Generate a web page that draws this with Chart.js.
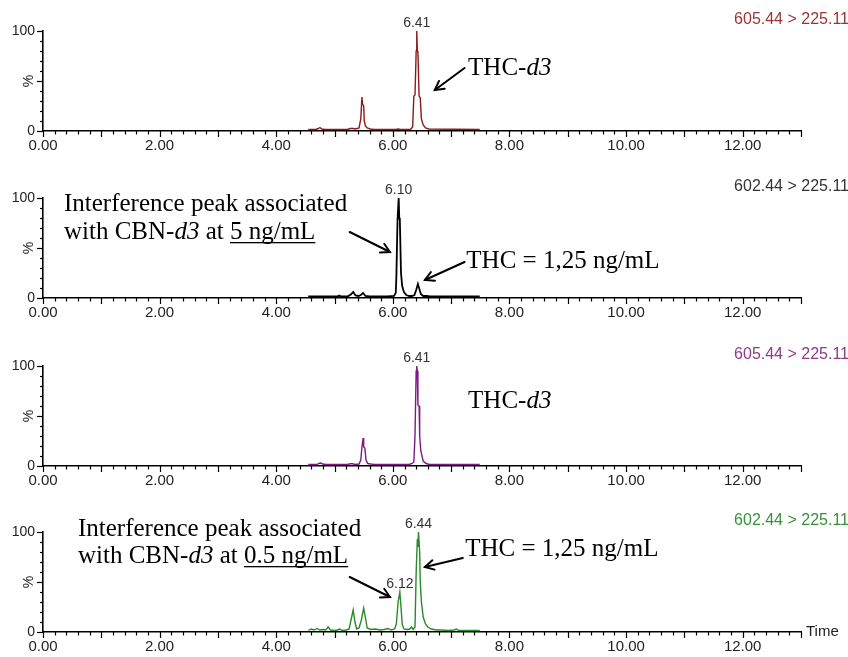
<!DOCTYPE html>
<html>
<head>
<meta charset="utf-8">
<script src="https://cdn.jsdelivr.net/npm/chart.js@4.4.0/dist/chart.umd.min.js"></script>
<style>
  body { margin: 0; background: #fff; }
  .panel { position: absolute; left: 0; width: 848px; height: 167px; }
</style>
</head>
<body>
<div class="panel" style="top:0px"><canvas id="c1" width="848" height="167"></canvas></div>
<div class="panel" style="top:167px"><canvas id="c2" width="848" height="167"></canvas></div>
<div class="panel" style="top:335px"><canvas id="c3" width="848" height="167"></canvas></div>
<div class="panel" style="top:501px"><canvas id="c4" width="848" height="167"></canvas></div>
<script>
// Ejes
const xTickValues = [0, 2, 4, 6, 8, 10, 12];
const xTickLabels = ['0.00', '2.00', '4.00', '6.00', '8.00', '10.00', '12.00'];
const yTickValues = [0, 100];
const yTickLabels = ['0', '100'];

// Canales MRM
const channels = ['605.44 > 225.11', '602.44 > 225.11', '605.44 > 225.11', '602.44 > 225.11'];

// Cromatograma 1 (THC-d3)
const time1 = [4.55, 4.68, 4.72, 4.75, 4.78, 4.84, 5.22, 5.27, 5.32, 5.36, 5.42, 5.45, 5.47, 5.48, 5.50, 5.51, 5.53, 5.56, 5.61, 5.68,
  6.05, 6.09, 6.13, 6.30, 6.34, 6.36, 6.38, 6.40, 6.41, 6.42, 6.43, 6.45, 6.47, 6.49, 6.52, 6.56, 6.62, 7.49];
const signal1 = [1.5, 1.5, 2.5, 3.5, 2, 1.5, 1.5, 2.5, 2.5, 2, 3, 12, 34, 27, 25, 10, 5, 3, 2, 1.5,
  1.5, 2, 1.5, 1.5, 4, 35, 36, 80, 100, 80, 79, 35, 33, 12, 6, 3, 2, 1.5];
const peaks1 = [6.41];

// Cromatograma 2 (THC, CBN-d3 5 ng/mL)
const time2 = [4.55, 4.95, 5.05, 5.08, 5.11, 5.22, 5.28, 5.32, 5.36, 5.41, 5.45, 5.49, 5.53, 5.60, 5.90,
  6.02, 6.05, 6.06, 6.08, 6.10, 6.11, 6.12, 6.14, 6.16, 6.19, 6.23, 6.28, 6.33, 6.37, 6.40,
  6.43, 6.45, 6.48, 6.52, 6.58, 6.64, 7.49];
const signal2 = [1.5, 1.5, 1.5, 2.5, 1.5, 1.5, 3.5, 6, 2.5, 2, 3, 5, 2, 1.5, 1.5,
  2, 5, 20, 78, 100, 80, 78, 25, 12, 6, 3, 2, 2, 3, 8,
  14, 10, 4, 2, 2, 1.5, 1.5];
const peaks2 = [6.10];

// Cromatograma 3 (THC-d3)
const time3 = [4.55, 4.70, 4.73, 4.76, 4.80, 4.86, 5.22, 5.27, 5.31, 5.35, 5.42, 5.45, 5.47, 5.49, 5.50,
  5.52, 5.54, 5.57, 5.62, 5.68, 6.28, 6.33, 6.36, 6.38, 6.40, 6.41, 6.42, 6.43, 6.45, 6.46,
  6.48, 6.52, 6.57, 6.63, 7.49];
const signal3 = [1.5, 1.5, 2.5, 3, 2, 1.5, 1.5, 2.2, 2.2, 1.5, 2, 6, 19, 28, 19,
  18, 6, 2.5, 2, 1.5, 1.5, 2.5, 4, 30, 95, 100, 95, 61, 60, 30,
  15, 5, 2.5, 1.5, 1.5];
const peaks3 = [6.41];

// Cromatograma 4 (THC, CBN-d3 0.5 ng/mL)
const time4 = [4.55, 4.60, 4.65, 4.70, 4.75, 4.80, 4.85, 4.89, 4.93, 5.00, 5.05, 5.09, 5.13, 5.20, 5.25,
  5.29, 5.32, 5.35, 5.38, 5.42, 5.46, 5.50, 5.53, 5.56, 5.62, 5.70, 5.78, 5.85, 5.92, 5.97,
  6.03, 6.06, 6.09, 6.12, 6.14, 6.16, 6.19, 6.24, 6.29, 6.32, 6.35, 6.38, 6.40, 6.42, 6.43,
  6.44, 6.46, 6.47, 6.49, 6.52, 6.56, 6.60, 6.66, 6.75, 6.85, 6.95, 7.05, 7.09, 7.13, 7.25, 7.40, 7.49];
const signal4 = [1.5, 3, 2, 3.5, 2, 2.5, 2, 5, 2, 1.5, 2, 3, 1.5, 2, 3,
  14, 22, 10, 3, 4, 12, 24, 14, 4, 2.5, 3, 2, 2.5, 3.5, 2,
  3, 8, 30, 40, 25, 8, 3, 2.5, 3, 5, 2.5, 5, 60, 93, 85,
  100, 80, 50, 30, 15, 8, 5, 3, 2, 2, 1.5, 2, 3, 1.5, 1.5, 1.5, 1.5];
const peaks4 = [6.12, 6.44];

const SERIF = '"Liberation Serif", "Times New Roman", serif';
const SANS = '"Liberation Sans", Arial, sans-serif';

// Dibuja marcas de los ejes, etiquetas y anotaciones
const chromPlugin = {
  id: 'chrom',
  afterDraw(chart, args, opts) {
    const ctx = chart.ctx;
    const xs = chart.scales.x, ys = chart.scales.y;
    const base = ys.getPixelForValue(0);
    const left = xs.left;
    ctx.save();
    ctx.strokeStyle = '#000';
    ctx.lineWidth = 1.2;
    for (let i = 0; i <= 65; i++) {
      const px = Math.round(xs.getPixelForValue(i / 5)) + 0.5;
      const len = i % 5 === 0 ? 6 : 3.5;
      ctx.beginPath(); ctx.moveTo(px, base); ctx.lineTo(px, base + len); ctx.stroke();
    }
    for (let j = 0; j <= 10; j++) {
      const py = Math.round(ys.getPixelForValue(j * 10)) + 0.5;
      const len = j % 5 === 0 ? 6 : 3;
      ctx.beginPath(); ctx.moveTo(left, py); ctx.lineTo(left - len, py); ctx.stroke();
    }

    // "%"
    ctx.fillStyle = '#222';
    ctx.font = '14px ' + SANS;
    ctx.textAlign = 'center';
    ctx.textBaseline = 'middle';
    ctx.save();
    ctx.translate(29, ys.getPixelForValue(50));
    ctx.rotate(-Math.PI / 2);
    ctx.fillText('%', 0, 0);
    ctx.restore();

    // canal
    ctx.font = '16px ' + SANS;
    ctx.fillStyle = opts.labelColor;
    ctx.textAlign = 'right';
    ctx.fillText(opts.channel, chart.width + 1, 20);

    if (opts.timeLabel) {
      ctx.fillStyle = '#222';
      ctx.font = '15px ' + SANS;
      ctx.textAlign = 'left';
      ctx.fillText('Time', xs.right + 5, base);
    }

    // etiquetas de picos
    const ds = chart.data.datasets[0].data;
    ctx.fillStyle = '#333';
    ctx.font = '14px ' + SANS;
    ctx.textAlign = 'center';
    ctx.textBaseline = 'bottom';
    opts.peaks.forEach(t => {
      const pt = ds.find(d => d.x === t);
      ctx.fillText(t.toFixed(2), xs.getPixelForValue(t), ys.getPixelForValue(pt.y) - 1);
    });

    // textos
    ctx.fillStyle = '#000';
    ctx.textAlign = 'left';
    ctx.textBaseline = 'alphabetic';
    (opts.texts || []).forEach(tx => {
      let cx = xs.getPixelForValue(tx.t);
      const cy = ys.getPixelForValue(tx.v);
      tx.parts.forEach(p => {
        ctx.font = (p.i ? 'italic ' : '') + '25px ' + SERIF;
        ctx.fillText(p.s, cx, cy);
        const w = ctx.measureText(p.s).width;
        if (p.u) ctx.fillRect(cx, cy + 3, w, 1.3);
        cx += w;
      });
    });

    // flechas
    ctx.strokeStyle = '#000';
    ctx.lineWidth = 2;
    ctx.lineCap = 'round';
    (opts.arrows || []).forEach(a => {
      const x1 = xs.getPixelForValue(a.from[0]), y1 = ys.getPixelForValue(a.from[1]);
      const x2 = xs.getPixelForValue(a.to[0]), y2 = ys.getPixelForValue(a.to[1]);
      const ang = Math.atan2(y2 - y1, x2 - x1);
      ctx.beginPath(); ctx.moveTo(x1, y1); ctx.lineTo(x2, y2); ctx.stroke();
      ctx.beginPath();
      ctx.moveTo(x2 - 10 * Math.cos(ang - 0.5), y2 - 10 * Math.sin(ang - 0.5));
      ctx.lineTo(x2, y2);
      ctx.lineTo(x2 - 10 * Math.cos(ang + 0.5), y2 - 10 * Math.sin(ang + 0.5));
      ctx.stroke();
    });
    ctx.restore();
  }
};

function makeChart(id, times, signal, color, lineWidth, notes) {
  return new Chart(document.getElementById(id), {
    type: 'line',
    data: {
      datasets: [{
        data: times.map((t, i) => ({ x: t, y: signal[i] })),
        borderColor: color,
        borderWidth: lineWidth,
        pointRadius: 0,
        tension: 0,
        clip: 6
      }]
    },
    options: {
      responsive: false,
      animation: false,
      devicePixelRatio: 1,
      layout: { padding: { top: 31, right: 47, left: 0, bottom: 0 } },
      plugins: {
        legend: { display: false },
        tooltip: { enabled: false },
        chrom: notes
      },
      scales: {
        x: {
          type: 'linear',
          min: 0,
          max: 13,
          afterFit: s => { s.height = 36; },
          afterBuildTicks: s => { s.ticks = xTickValues.map(v => ({ value: v })); },
          ticks: {
            autoSkip: false,
            maxRotation: 0,
            padding: 6,
            color: '#222',
            font: { family: SANS, size: 15 },
            callback: v => xTickLabels[xTickValues.indexOf(v)]
          },
          grid: { display: false, drawTicks: false },
          border: { display: true, color: '#000', width: 1.6 }
        },
        y: {
          min: 0,
          max: 100,
          afterFit: s => { s.width = 43; },
          afterBuildTicks: s => { s.ticks = yTickValues.map(v => ({ value: v })); },
          ticks: {
            padding: 8,
            color: '#222',
            font: { family: SANS, size: 14 },
            callback: v => yTickLabels[yTickValues.indexOf(v)]
          },
          grid: { display: false, drawTicks: false },
          border: { display: true, color: '#000', width: 1.6 }
        }
      }
    },
    plugins: [chromPlugin]
  });
}

makeChart('c1', time1, signal1, '#8b1a1a', 1.4, {
  channel: channels[0], labelColor: '#9c3434', peaks: peaks1,
  texts: [{ t: 7.29, v: 56, parts: [{ s: 'THC-' }, { s: 'd3', i: true }] }],
  arrows: [{ from: [7.23, 63], to: [6.72, 41] }]
});

makeChart('c2', time2, signal2, '#000000', 1.8, {
  channel: channels[1], labelColor: '#333333', peaks: peaks2,
  texts: [
    { t: 0.36, v: 87, parts: [{ s: 'Interference peak associated' }] },
    { t: 0.36, v: 59, parts: [{ s: 'with CBN-' }, { s: 'd3', i: true }, { s: ' at ' }, { s: '5 ng/mL', u: true }] },
    { t: 7.26, v: 30, parts: [{ s: 'THC = 1,25 ng/mL' }] }
  ],
  arrows: [{ from: [5.26, 66], to: [5.95, 46] }, { from: [7.23, 36], to: [6.55, 18] }]
});

makeChart('c3', time3, signal3, '#7f1a7f', 1.4, {
  channel: channels[2], labelColor: '#8e3a8e', peaks: peaks3,
  texts: [{ t: 7.29, v: 58, parts: [{ s: 'THC-' }, { s: 'd3', i: true }] }]
});

makeChart('c4', time4, signal4, '#2a8a2a', 1.4, {
  channel: channels[3], labelColor: '#3a8f3a', peaks: peaks4, timeLabel: true,
  texts: [
    { t: 0.60, v: 96, parts: [{ s: 'Interference peak associated' }] },
    { t: 0.60, v: 69, parts: [{ s: 'with CBN-' }, { s: 'd3', i: true }, { s: ' at ' }, { s: '0.5 ng/mL', u: true }] },
    { t: 7.24, v: 76, parts: [{ s: 'THC = 1,25 ng/mL' }] }
  ],
  arrows: [{ from: [5.26, 55], to: [5.95, 35] }, { from: [7.2, 74], to: [6.55, 65] }]
});
</script>
</body>
</html>
